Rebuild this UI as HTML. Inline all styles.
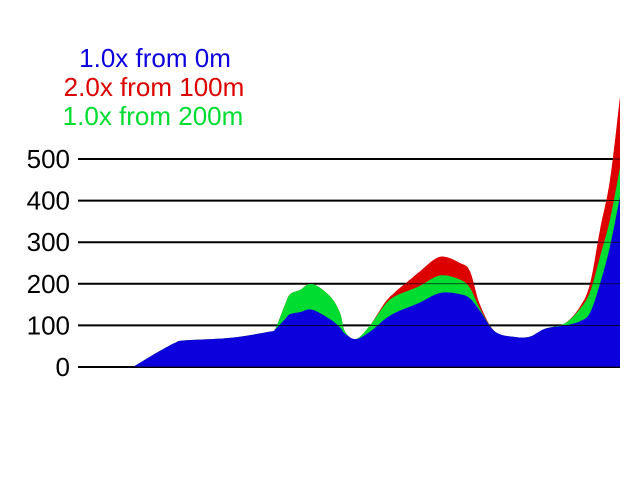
<!DOCTYPE html>
<html><head><meta charset="utf-8"><style>
html,body{margin:0;padding:0;background:#fff}
svg{display:block;font-family:"Liberation Sans",sans-serif}
</style></head><body>
<svg id="c" width="640" height="480">
<g id="grid"></g>
<g id="areas"></g>
<g id="grid2"></g>
<g id="ylab"></g>
<g font-size="26" text-anchor="middle">
<text x="155" y="67" fill="#0c00dc">1.0x from 0m</text>
<text x="154" y="96" fill="#dc0000">2.0x from 100m</text>
<text x="153" y="125" fill="#00dc30">1.0x from 200m</text>
</g>
</svg>
<script>
const ticks=[0,100,200,300,400,500];
const distance=[55,77,97,107,152,192,197,207,212,222,234,252,262,267,278,292,307,317,332,342,362,382,392,402,417,437,452,467,487,502,512,522,532,542];
const blueVals=[0,32,58,64,70,85,90,115,127,132,138,115,95,80,67,85,115,130,145,155,178,175,165,135,85,72,73,92,100,110,130,200,290,410];
const greenVals=[0,32,58,64,70,85,90,150,175,185,200,170,130,85,67,100,150,170,185,195,220,210,190,140,85,72,73,92,105,140,180,265,355,480];
const redVals=[0,32,58,64,70,85,90,150,175,185,200,170,130,85,67,100,155,180,210,230,265,250,230,150,85,72,73,92,105,145,200,330,450,650];
const X=d=>78+d, Y=v=>367-v*0.416;
const ns="http://www.w3.org/2000/svg";
function mk(t,a,p){const e=document.createElementNS(ns,t);for(const k in a)e.setAttribute(k,a[k]);p.appendChild(e);return e;}
const grid=document.getElementById('grid'),grid2=document.getElementById('grid2'),ylab=document.getElementById('ylab');
ticks.forEach(t=>{
 const l=mk('line',{x1:78,x2:620,y1:Y(t),y2:Y(t),stroke:'#000','stroke-width':2},grid);
 
 
 const l2=mk('line',{x1:78,x2:620,y1:Y(t),y2:Y(t),stroke:'#000','stroke-width':0.7},grid2);
 
 
 const tx=mk('text',{x:70,y:Y(t)+9,'text-anchor':'end','font-size':26,fill:'#000'},ylab);
 tx.textContent=t;
 
 
});
function path(vals){
 const p=distance.map((d,i)=>[X(d),Y(vals[i])]);
 let s=`M${p[0][0]},${Y(0)} L${p[0][0]},${p[0][1]}`;
 for(let i=0;i<p.length-1;i++){
  const p0=p[Math.max(0,i-1)],p1=p[i],p2=p[i+1],p3=p[Math.min(p.length-1,i+2)];
  const c1=[p1[0]+(p2[0]-p0[0])/6,p1[1]+(p2[1]-p0[1])/6];
  const c2=[p2[0]-(p3[0]-p1[0])/6,p2[1]-(p3[1]-p1[1])/6];
  s+=` C${c1[0]},${c1[1]} ${c2[0]},${c2[1]} ${p2[0]},${p2[1]}`;
 }
 s+=` L${p[p.length-1][0]},${Y(0)} Z`;return s;
}
const areas=document.getElementById('areas');
[['red',redVals,'#dc0000'],['green',greenVals,'#00dc30'],['blue',blueVals,'#0c00dc']].forEach(([n,v,c])=>{
 const e=mk('path',{d:path(v),fill:c},areas);
 
 
});
</script>
</body></html>
